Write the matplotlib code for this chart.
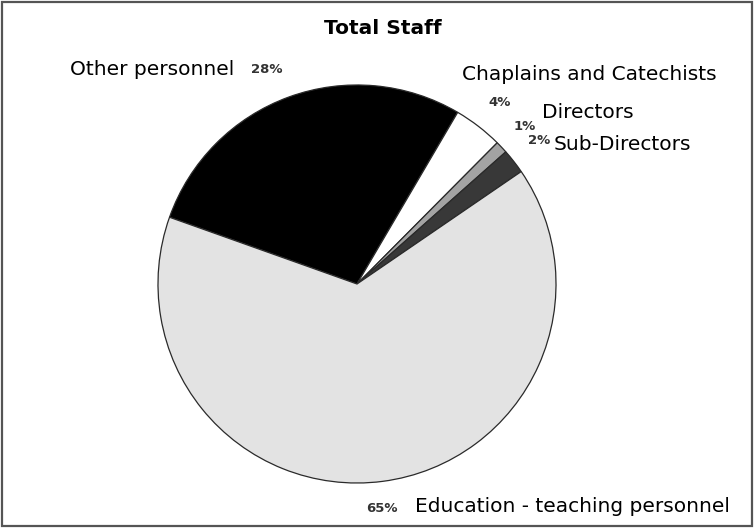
import matplotlib
matplotlib.use("Agg")
import matplotlib.pyplot as plt
from matplotlib.patches import Rectangle

# data
labels = ["Other personnel", "Chaplains and Catechists", "Directors",
          "Sub-Directors", "Education - teaching personnel"]
shares = [28, 4, 1, 2, 65]
colors = ["#000000", "#ffffff", "#a3a3a3", "#383838", "#e3e3e3"]

W, H = 755, 529
fig = plt.figure(figsize=(W / 100, H / 100), dpi=100)

def fx(x):
	return x / W

def fy(y):
	return 1 - y / H

# pie centre and radius in pixels
cx, cy, r = 357, 284, 201
ax = fig.add_axes([fx(cx - r), fy(cy + r), 2 * r / W, 2 * r / H])
ax.pie(shares, colors=colors, startangle=160.4, counterclock=False,
       wedgeprops=dict(edgecolor="#2a2a2a", linewidth=0.9))
ax.set_xlim(-1.01, 1.01)
ax.set_ylim(-1.01, 1.01)
ax.axis("off")

# frame round the whole chart
fig.patches.append(Rectangle((fx(2), fy(526)), fx(750), 524 / H,
                             transform=fig.transFigure, fill=False,
                             edgecolor="#555555", linewidth=1.6))

fig.text(fx(383), fy(28), "Total Staff", ha="center", va="center",
         fontsize=14.5, fontweight="bold")

# label text: (name position, percent position)
name_pos = [(70, 70), (462, 75), (542, 113), (554, 145), (415, 506)]
pct_pos = [(267, 70), (500, 102), (525, 126), (539, 140), (382, 509)]

for lab, val, (nx, ny), (px, py) in zip(labels, shares, name_pos, pct_pos):
	fig.text(fx(nx), fy(ny), lab, ha="left", va="center", fontsize=14.5)
	fig.text(fx(px), fy(py), "%d%%" % val, ha="center", va="center",
	         fontsize=9.5, fontweight="bold", color="#333333")

fig.savefig("out.png", dpi=100)
